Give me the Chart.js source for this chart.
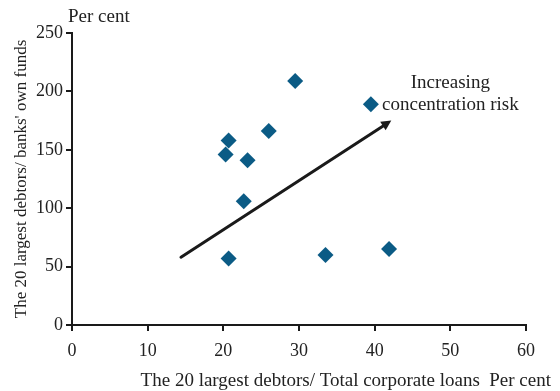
<!DOCTYPE html>
<html><head><meta charset="utf-8">
<script src="https://cdn.jsdelivr.net/npm/chart.js@4"></script>
<style>html,body{margin:0;padding:0;background:#fff}#w{width:560px;height:391px;position:relative}</style>
</head><body><div id="w"><canvas id="c"></canvas></div>
<script>
const debtorsToLoans = [29.5, 39.5, 26.0, 20.7, 20.3, 23.2, 22.7, 20.7, 33.5, 41.9];
const debtorsToFunds = [209, 189, 166, 158, 146, 141, 106, 57, 60, 65];
const xTicks = [0, 10, 20, 30, 40, 50, 60];
const yTicks = [0, 50, 100, 150, 200, 250];
const arrowStart = [14.4, 58];
const arrowEnd = [42.2, 175];
const annotation = ["Increasing", "concentration risk"];
const annotationPos = [50.0, 207.5];
const xTitle = 'The 20 largest debtors/ Total corporate loans\u2002Per cent';

const FONT = "'Liberation Serif', 'Times New Roman', serif";
const pts = debtorsToLoans.map((x, i) => ({x, y: debtorsToFunds[i]}));

const overlay = {
  id: 'overlay',
  afterDatasetsDraw(chart) {
    const {ctx, scales:{x, y}} = chart;
    const x0 = x.getPixelForValue(arrowStart[0]), y0 = y.getPixelForValue(arrowStart[1]);
    const x1 = x.getPixelForValue(arrowEnd[0]), y1 = y.getPixelForValue(arrowEnd[1]);
    const ang = Math.atan2(y1 - y0, x1 - x0);
    ctx.save();
    ctx.strokeStyle = '#1a1a1a'; ctx.fillStyle = '#1a1a1a';
    ctx.lineWidth = 3; ctx.lineCap = 'round';
    const hl = 10;
    ctx.beginPath();
    ctx.moveTo(x0, y0);
    ctx.lineTo(x1 - Math.cos(ang) * hl * 0.7, y1 - Math.sin(ang) * hl * 0.7);
    ctx.stroke();
    ctx.beginPath();
    ctx.moveTo(x1, y1);
    ctx.lineTo(x1 - hl * Math.cos(ang) + 5 * Math.sin(ang), y1 - hl * Math.sin(ang) - 5 * Math.cos(ang));
    ctx.lineTo(x1 - hl * Math.cos(ang) - 5 * Math.sin(ang), y1 - hl * Math.sin(ang) + 5 * Math.cos(ang));
    ctx.closePath(); ctx.fill();
    // annotation
    ctx.font = '19px ' + FONT;
    ctx.fillStyle = '#222';
    ctx.textAlign = 'center'; ctx.textBaseline = 'middle';
    const ax = x.getPixelForValue(annotationPos[0]), ay = y.getPixelForValue(annotationPos[1]);
    annotation.forEach((t, i) => ctx.fillText(t, ax, ay + i * 22));
    // "Per cent" above y axis
    ctx.textAlign = 'left'; ctx.textBaseline = 'alphabetic';
    ctx.fillText('Per cent', 68, 22);
    // x axis title, right aligned to the canvas edge
    ctx.textAlign = 'right'; ctx.textBaseline = 'middle';
    ctx.fillText(xTitle, chart.width - 9, 381);
    ctx.restore();
  }
};

new Chart(document.getElementById('c'), {
  type: 'scatter',
  data: { datasets: [{ data: pts, pointStyle: 'rectRot', pointRadius: 8, pointHoverRadius: 8,
    backgroundColor: '#0b5b85', borderColor: '#0b5b85', borderWidth: 0 }] },
  options: {
    responsive: true, maintainAspectRatio: false, animation: false,
    layout: { padding: { top: 33, right: 34, left: 8, bottom: 2 } },
    plugins: { legend: { display: false }, tooltip: { enabled: false } },
    scales: {
      x: {
        type: 'linear', min: 0, max: 60,
        afterBuildTicks: s => { s.ticks = xTicks.map(v => ({value: v})); },
        grid: { display: true, drawOnChartArea: false, drawTicks: true, tickLength: 6, color: '#1a1a1a', lineWidth: 2 },
        border: { display: true, color: '#1a1a1a', width: 2 },
        ticks: { color: '#222', font: { family: FONT, size: 18 }, padding: 9, maxRotation: 0 },
        title: { display: false },
        afterFit: s => { s.height = 64; }
      },
      y: {
        type: 'linear', min: 0, max: 250,
        afterBuildTicks: s => { s.ticks = yTicks.map(v => ({value: v})); },
        grid: { display: true, drawOnChartArea: false, drawTicks: true, tickLength: 6, color: '#1a1a1a', lineWidth: 2 },
        border: { display: true, color: '#1a1a1a', width: 2 },
        ticks: { color: '#222', font: { family: FONT, size: 18 }, padding: 3 },
        title: { display: true, text: "The 20 largest debtors/ banks' own funds",
          color: '#222', font: { family: FONT, size: 17 }, padding: { top: 3, bottom: 1 } },
        afterFit: s => { s.width = 64; }
      }
    }
  },
  plugins: [overlay]
});
</script></body></html>
